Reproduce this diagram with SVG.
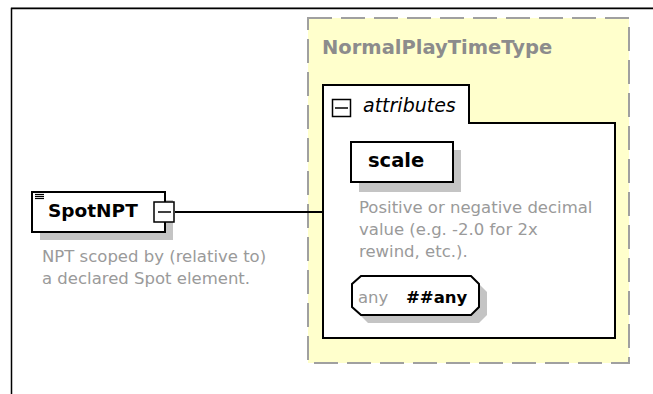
<svg xmlns="http://www.w3.org/2000/svg" width="653" height="394" viewBox="0 0 653 394">
<style>
.shadow{fill:#c4c4c4;stroke:none}
.box{fill:#fff;stroke:#000;stroke-width:2}
.bold{font-family:"DejaVu Sans",Verdana,sans-serif;font-weight:bold;fill:#000}
.desc{font-family:"DejaVu Sans",Verdana,sans-serif;font-size:16.5px;fill:#9a9a9a}
.line{stroke:#000;stroke-width:2;fill:none}
</style>
<rect x="0" y="0" width="653" height="394" fill="#fff"/>
<g id="frame">
<line x1="11" y1="7.5" x2="653" y2="7.5" stroke="#a0a0a0" stroke-width="1"/>
<path d="M11.5,394 V8.5 H653" fill="none" stroke="#000" stroke-width="1.5"/>
</g>
<g id="NormalPlayTimeType">
<rect x="308" y="18" width="321" height="345" fill="#ffffcc" stroke="#a0a0a0" stroke-width="2" stroke-dasharray="24 9"/>
<text x="322" y="54" class="bold" font-size="19.5" style="fill:#8c8c8c">NormalPlayTimeType</text>
</g>
<g id="attributes">
<path d="M323,85 H469 V123 H615 V338 H323 Z" class="box"/>
<rect x="332.5" y="99.5" width="18" height="17" fill="#fff" stroke="#000" stroke-width="1.5"/>
<line x1="335" y1="108" x2="348" y2="108" stroke="#000" stroke-width="1.5"/>
<text x="363" y="112" font-family="DejaVu Sans,Verdana,sans-serif" font-style="italic" font-size="19" fill="#000">attributes</text>
</g>
<g id="scale">
<rect x="359" y="150" width="102" height="42" class="shadow"/>
<rect x="351" y="142" width="102" height="40" class="box"/>
<text x="368" y="167" class="bold" font-size="19.5">scale</text>
<text class="desc"><tspan x="359" y="213">Positive or negative decimal</tspan><tspan x="359" y="235">value (e.g. -2.0 for 2x</tspan><tspan x="359" y="257">rewind, etc.).</tspan></text>
</g>
<g id="any">
<path d="M368,284 H479 L487,292 V315 L479,323 H368 L360,315 V292 Z" class="shadow"/>
<path d="M361,276 H471 L479,284 V307 L471,315 H361 L352,307 V284 Z" class="box"/>
<text x="358" y="303" font-family="DejaVu Sans,Verdana,sans-serif" font-size="16.5" fill="#9a9a9a">any</text>
<text x="406" y="303" class="bold" font-size="16.5">##any</text>
</g>
<g id="connectors">
<line x1="175" y1="212" x2="323" y2="212" class="line" stroke-width="1.5"/>
</g>
<g id="SpotNPT">
<rect x="40" y="200" width="133" height="40" class="shadow"/>
<rect x="32" y="192" width="133" height="40" class="box"/>
<line x1="35" y1="194.5" x2="44" y2="194.5" stroke="#000" stroke-width="1.2"/>
<line x1="35" y1="196.5" x2="44" y2="196.5" stroke="#000" stroke-width="1.2"/>
<line x1="35" y1="198.5" x2="44" y2="198.5" stroke="#000" stroke-width="1.2"/>
<text x="48" y="217" class="bold" font-size="18.5">SpotNPT</text>
<rect x="154" y="202" width="20" height="20" fill="#fff" stroke="#000" stroke-width="1.5"/>
<line x1="158" y1="212" x2="171" y2="212" stroke="#000" stroke-width="1.5"/>
<text class="desc"><tspan x="42" y="262">NPT scoped by (relative to)</tspan><tspan x="42" y="284">a declared Spot element.</tspan></text>
</g>
</svg>
